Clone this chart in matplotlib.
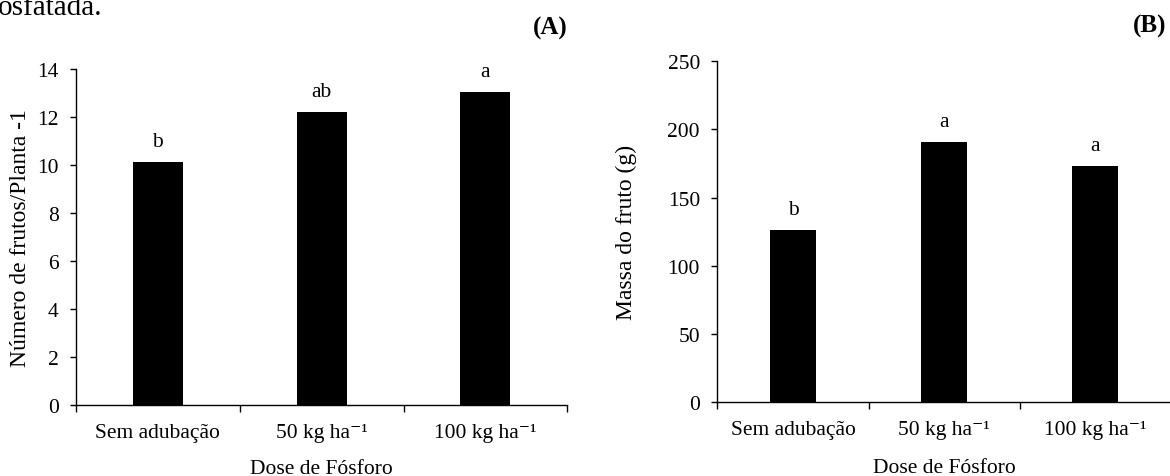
import numpy as np
import matplotlib.pyplot as plt

# dados
categorias = ['Sem adubação', '50 kg ha⁻¹', '100 kg ha⁻¹']
frutos = [10.11, 12.19, 13.05]
letras_frutos = ['b', 'ab', 'a']
massa = [126.5, 190.6, 173.0]
letras_massa = ['b', 'a', 'a']

plt.rcParams['font.family'] = ['Liberation Serif', 'DejaVu Serif']
plt.rcParams['text.color'] = 'black'

fig = plt.figure(figsize=(11.7, 4.77), dpi=100)
axA = fig.add_axes([0.06496, 0.1495, 0.4199, 0.7038])
axB = fig.add_axes([0.6131, 0.1545, 0.3878, 0.7149])


def painel(ax, vals, letras, ymax, passo, ylabel, ylx, xly):
    x = np.arange(len(vals))
    ax.bar(x, vals, width=0.305, color='black')
    for xi, v, l in zip(x, vals, letras):
        ax.annotate(l, (xi, v), xytext=(0, 11.5), textcoords='offset points',
                    ha='center', va='baseline', fontsize=15.5)
    ax.set_xlim(-0.5, 2.5)
    ax.set_ylim(0, ymax)
    ax.set_yticks(np.arange(0, ymax + 1, passo))
    ax.set_xticks([-0.5, 0.5, 1.5, 2.5])
    ax.set_xticklabels([])
    ax.set_xticks(x, minor=True)
    ax.set_xticklabels(categorias, minor=True, fontsize=15.5)
    ax.tick_params(axis='x', which='minor', length=0, pad=13)
    ax.tick_params(axis='x', which='major', length=5, width=1)
    ax.tick_params(axis='y', length=4.5, width=1, pad=8, labelsize=15.5)
    for s in ['top', 'right']:
        ax.spines[s].set_visible(False)
    for s in ['left', 'bottom']:
        ax.spines[s].set_linewidth(1)
    ax.set_xlabel('Dose de Fósforo', fontsize=15.5, va='center')
    ax.xaxis.set_label_coords(0.5, xly)
    ax.set_ylabel(ylabel, fontsize=17, va='center')
    ax.yaxis.set_label_coords(ylx, 0.5)


painel(axA, frutos, letras_frutos, 14, 2, 'Número de frutos/Planta -1', -0.112, -0.1900)
painel(axB, massa, letras_massa, 250, 50, 'Massa do fruto (g)', -0.2012, -0.1900)

fig.text(0.4852, 0.9413, '(A)', ha='right', va='center', fontsize=18, fontweight='bold')
fig.text(0.9966, 0.944, '(B)', ha='right', va='center', fontsize=18, fontweight='bold')
# final da legenda do documento, cortado na borda
fig.text(-0.002, 1 - 15 / 477, 'osfatada.', ha='left', va='baseline', fontsize=21)

fig.savefig('out.png', dpi=100)
